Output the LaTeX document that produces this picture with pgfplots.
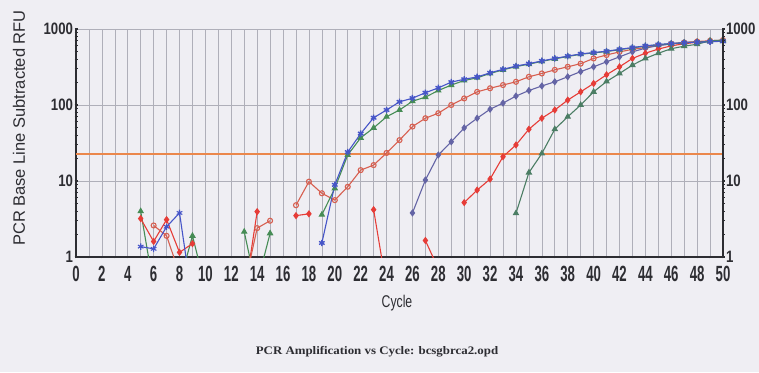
\documentclass[border=0pt]{standalone}
\usepackage{pgfplots}
\pgfplotsset{compat=1.18}
\usepackage{fontspec}
\setmainfont{Liberation Sans}
\newfontfamily\narrowfont[FakeStretch=0.72]{Liberation Sans}
\newfontfamily\xfont[FakeStretch=0.6]{Liberation Sans}
\newfontfamily\yfont[FakeStretch=0.8]{Liberation Sans}
\newfontfamily\titlefont[FakeStretch=1.12]{Liberation Serif}
\definecolor{bg}{RGB}{239,238,243}
\definecolor{gridc}{RGB}{175,175,185}
\definecolor{axc}{RGB}{45,45,50}
\definecolor{cblue}{RGB}{70,85,200}
\definecolor{cgreen}{RGB}{70,140,85}
\definecolor{cgreenb}{RGB}{75,125,100}
\definecolor{cdred}{RGB}{215,95,80}
\definecolor{cred}{RGB}{230,60,55}
\definecolor{cpurple}{RGB}{100,100,165}
\definecolor{corange}{RGB}{235,135,75}
\begin{document}
\begin{tikzpicture}[x=1pt,y=1pt]
\path[fill=bg, use as bounding box] (0,0) rectangle (759,372);
\begin{axis}[
  at={(76pt,115pt)}, anchor=south west, scale only axis,
  width=647pt, height=228pt,
  xmin=0, xmax=50, ymode=log, ymin=1, ymax=1000,
  axis x line=bottom, axis y line=left,
  axis line style={-, axc, line width=1.8pt},
  xtick={0,2,...,50}, minor xtick={1,3,...,49},
  xmajorgrids, xminorgrids, ymajorgrids,
  grid style={gridc, line width=0.6pt},
  minor grid style={gridc, line width=0.6pt},
  ytick={1,10,100,1000}, yticklabels={1,10,100,1000},
  xticklabels={0,2,4,6,8,10,12,14,16,18,20,22,24,26,28,30,32,34,36,38,40,42,44,46,48,50},
  tick style={axc, line width=1.2pt},
  major tick length=3pt, minor tick length=3pt,
  tick align=center,
  xticklabel style={font=\xfont\bfseries\fontsize{22}{22}\selectfont, text=axc, yshift=-4pt},
  yticklabel style={font=\yfont\bfseries\fontsize{16.5}{16.5}\selectfont, text=axc, xshift=2pt},
  clip=true,
  every axis plot/.append style={line width=1.1pt},
]
% threshold
\addplot[corange, line width=2pt, mark=none] coordinates {(0,22.6) (50,22.6)};
% early noise
\addplot[cgreen, mark=triangle*, mark size=2.8pt] coordinates {(5,4.0) (6,0.4)};
\addplot[cgreen, mark=triangle*, mark size=2.8pt] coordinates {(8,0.45) (9,1.9) (10,0.4)};
\addplot[cgreen, mark=triangle*, mark size=2.8pt] coordinates {(13,2.15) (14,0.35)};
\addplot[cgreen, mark=triangle*, mark size=2.8pt] coordinates {(14,0.45) (15,2.05)};
\addplot[cred, mark=diamond*, mark size=2.8pt] coordinates {(5,3.2) (6,1.6) (7,3.1) (8,1.15) (9,1.5)};
\addplot[cred, mark=diamond*, mark size=2.8pt] coordinates {(13,0.3) (14,3.95)};
\addplot[cred, mark=diamond*, mark size=2.8pt] coordinates {(17,3.5) (18,3.7)};
\addplot[cred, mark=diamond*, mark size=2.8pt] coordinates {(23,4.2) (24,0.4)};
\addplot[cred, mark=diamond*, mark size=2.8pt] coordinates {(27,1.65) (28,0.7)};
\addplot[cdred, mark=o, mark size=2.5pt] coordinates {(6,2.6) (7,1.9) (8,0.6)};
\addplot[cdred, mark=o, mark size=2.5pt] coordinates {(13,0.4) (14,2.4) (15,3.0)};
\addplot[cblue, mark=asterisk, mark size=3.2pt] coordinates {(5,1.37) (6,1.28) (7,2.5) (8,3.8) (9,0.26)};
% main curves
\addplot[cdred, mark=o, mark size=2.5pt] coordinates {
(17,4.8)(18,9.8)(19,6.9)(20,5.6)(21,8.4)(22,13.9)(23,16.2)(24,23.4)(25,34.5)(26,52)(27,67)(28,78)(29,100)(30,122)(31,149)(32,166)(33,183)(34,202)(35,235)(36,260)(37,290)(38,318)(39,350)(40,410)(41,455)(42,500)(43,540)(44,570)(45,610)(46,640)(47,665)(48,685)(49,700)(50,715)};
\addplot[cpurple, mark=diamond*, mark size=2.8pt] coordinates {
(26,3.8)(27,10.3)(28,22)(29,32.8)(30,50)(31,67)(32,88)(33,106)(34,131)(35,155)(36,178)(37,202)(38,235)(39,275)(40,318)(41,370)(42,430)(43,500)(44,560)(45,605)(46,635)(47,660)(48,675)(49,690)(50,700)};
\addplot[cred, mark=diamond*, mark size=2.8pt] coordinates {
(30,5.2)(31,7.6)(32,10.6)(33,20.9)(34,29.8)(35,48)(36,67)(37,86)(38,116)(39,149)(40,192)(41,250)(42,318)(43,410)(44,480)(45,545)(46,600)(47,640)(48,670)(49,690)(50,700)};
\addplot[cgreenb, mark=triangle*, mark size=2.8pt] coordinates {
(34,3.76)(35,12.9)(36,23)(37,48)(38,70)(39,100)(40,149)(41,204)(42,260)(43,335)(44,410)(45,480)(46,550)(47,595)(48,630)(49,700)(50,715)};
\addplot[cgreen, mark=triangle*, mark size=2.8pt] coordinates {
(19,3.6)(20,8.0)(21,22)(22,37)(23,50)(24,70)(25,86)(26,112)(27,127)(28,155)(29,183)(30,210)(31,228)(32,260)(33,290)(34,320)(35,345)(36,375)(37,405)(38,435)(39,465)(40,485)(41,505)(42,535)(43,565)(44,595)(45,620)(46,640)(47,660)(48,672)(49,685)(50,690)};
\addplot[cblue, mark=asterisk, mark size=3.2pt, mark options={line width=1.4pt}] coordinates {
(19,1.53)(20,8.9)(21,24)(22,42)(23,68)(24,86)(25,110)(26,123)(27,145)(28,168)(29,200)(30,218)(31,234)(32,265)(33,295)(34,325)(35,350)(36,380)(37,410)(38,440)(39,470)(40,490)(41,510)(42,540)(43,570)(44,600)(45,625)(46,645)(47,660)(48,670)(49,680)(50,690)};
\end{axis}
\begin{axis}[
  at={(76pt,115pt)}, anchor=south west, scale only axis,
  width=647pt, height=228pt,
  xmin=0, xmax=50, ymode=log, ymin=1, ymax=1000,
  axis x line=none, axis y line=right,
  axis line style={-, axc, line width=1.8pt},
  ytick={1,10,100,1000}, yticklabels={1,10,100,1000},
  tick style={axc, line width=1.2pt},
  major tick length=3pt, minor tick length=3pt, tick align=center,
  yticklabel style={font=\yfont\bfseries\fontsize{16.5}{16.5}\selectfont, text=axc, xshift=-2pt},
]
\end{axis}
\node[rotate=90, font=\fontsize{16.5}{16.5}\selectfont, text=axc] at (19,244) {PCR Base Line Subtracted RFU};
\node[font=\narrowfont\fontsize{17}{17}\selectfont, text=axc] at (397,69) {Cycle};
\node[font=\titlefont\bfseries\fontsize{11.5}{11.5}\selectfont, text=axc] at (377,20) {PCR Amplification vs Cycle: bcsgbrca2.opd};
\end{tikzpicture}
\end{document}
